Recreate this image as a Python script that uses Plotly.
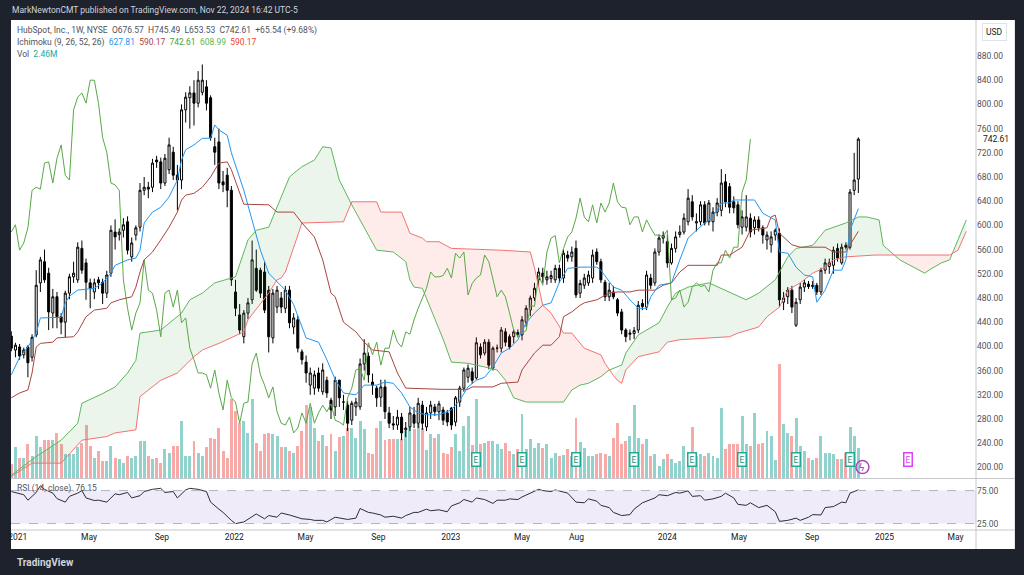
import pandas as pd
import plotly.graph_objects as go


# HubSpot weekly bars, first visible bar = week of 2020-12-21
first_week = "2020-12-21"

opens = [417, 394, 399, 386, 399, 382, 419, 505, 540, 521,
         455, 482, 449, 440, 488, 515, 510, 562, 538, 505,
         490, 510, 506, 488, 521, 589, 585, 592, 606, 548,
         584, 597, 658, 663, 663, 708, 705, 670, 692, 721,
         683, 675, 791, 811, 819, 802, 820, 829, 811, 730,
         738, 672, 683, 658, 490, 452, 416, 455, 477, 529,
         526, 523, 493, 414, 465, 480, 463, 493, 432, 444,
         391, 374, 336, 331, 356, 325, 344, 311, 300, 344,
         308, 303, 278, 300, 300, 371, 384, 341, 331, 316,
         333, 290, 272, 270, 283, 262, 267, 287, 273, 303,
         267, 290, 300, 292, 295, 290, 298, 275, 308, 331,
         349, 358, 348, 399, 389, 407, 364, 397, 397, 424,
         416, 416, 423, 419, 440, 460, 480, 510, 521, 510,
         512, 510, 529, 513, 551, 548, 562, 488, 501, 505,
         513, 556, 540, 506, 482, 490, 477, 457, 427, 420,
         421, 427, 471, 465, 513, 505, 556, 579, 573, 538,
         562, 585, 589, 606, 639, 604, 606, 634, 606, 606,
         622, 625, 672, 664, 639, 634, 597, 597, 612, 596,
         609, 596, 576, 568, 584, 587, 473, 482, 493, 435,
         477, 498, 503, 499, 501, 490, 526, 532, 534, 562,
         538, 567, 564, 658, 676.57]

highs = [425, 406, 404, 398, 402, 420, 526, 548, 560, 530,
         495, 490, 455, 492, 520, 540, 572, 575, 545, 512,
         512, 515, 512, 525, 600, 610, 595, 612, 615, 580,
         600, 670, 680, 672, 710, 715, 712, 718, 745, 730,
         700, 800, 820, 830, 840, 855, 866, 840, 815, 745,
         760, 690, 695, 665, 510, 470, 460, 480, 575, 560,
         530, 540, 500, 495, 500, 490, 500, 500, 455, 450,
         395, 385, 365, 360, 365, 372, 350, 315, 350, 345,
         320, 310, 310, 315, 380, 412, 390, 355, 335, 345,
         345, 300, 285, 295, 290, 275, 300, 300, 315, 310,
         300, 310, 305, 310, 300, 295, 300, 318, 335, 365,
         370, 365, 415, 405, 412, 412, 400, 403, 432, 430,
         420, 428, 428, 450, 468, 484, 505, 530, 530, 525,
         525, 535, 535, 560, 558, 565, 575, 510, 520, 525,
         560, 562, 545, 510, 505, 500, 480, 462, 430, 428,
         432, 475, 478, 525, 520, 562, 585, 590, 585, 570,
         590, 600, 620, 660, 650, 620, 640, 640, 642, 630,
         645, 693, 685, 670, 648, 640, 625, 650, 620, 615,
         615, 600, 590, 590, 595, 595, 490, 498, 500, 480,
         505, 510, 508, 508, 505, 530, 545, 545, 565, 570,
         570, 572, 660, 720, 745.49]

lows = [392, 382, 378, 380, 349, 375, 415, 490, 505, 427,
        430, 430, 420, 415, 478, 505, 505, 520, 477, 463,
        478, 495, 470, 480, 515, 560, 575, 580, 552, 540,
        575, 590, 650, 645, 655, 695, 660, 665, 685, 675,
        625, 660, 770, 760, 765, 795, 815, 790, 740, 700,
        660, 655, 630, 500, 450, 420, 405, 445, 470, 490,
        480, 455, 390, 405, 455, 455, 455, 430, 420, 390,
        370, 340, 320, 320, 325, 320, 315, 280, 285, 300,
        295, 260, 270, 285, 295, 360, 340, 320, 300, 300,
        280, 265, 262, 262, 245, 250, 260, 265, 265, 262,
        260, 280, 285, 278, 270, 268, 262, 268, 300, 325,
        340, 338, 345, 380, 385, 362, 360, 390, 390, 400,
        395, 405, 415, 410, 432, 450, 475, 500, 505, 502,
        505, 505, 505, 505, 540, 540, 480, 480, 495, 500,
        505, 535, 505, 475, 475, 478, 450, 420, 407, 410,
        412, 422, 460, 460, 495, 500, 550, 570, 530, 535,
        555, 580, 585, 600, 608, 590, 600, 600, 600, 590,
        615, 615, 630, 620, 620, 595, 585, 590, 580, 585,
        590, 570, 560, 555, 575, 465, 460, 470, 455, 432,
        470, 490, 495, 495, 485, 485, 520, 520, 520, 540,
        535, 560, 560, 650, 653.53]

closes = [397, 402, 384, 394, 373, 415, 501, 543, 510, 457,
          482, 449, 440, 488, 515, 521, 564, 526, 506, 496,
          505, 505, 488, 518, 592, 581, 589, 601, 559, 571,
          596, 658, 663, 660, 703, 705, 670, 711, 733, 683,
          675, 791, 812, 819, 802, 840, 840, 802, 745, 721,
          670, 667, 658, 510, 463, 427, 455, 472, 543, 493,
          488, 460, 416, 488, 493, 465, 493, 439, 447, 397,
          378, 356, 356, 353, 331, 361, 323, 295, 344, 315,
          308, 273, 306, 308, 371, 389, 353, 336, 315, 333,
          292, 273, 270, 283, 257, 265, 290, 273, 306, 273,
          290, 303, 292, 305, 278, 275, 270, 315, 331, 361,
          364, 344, 406, 386, 407, 369, 397, 397, 427, 407,
          399, 424, 420, 444, 463, 480, 496, 523, 515, 515,
          517, 529, 513, 554, 546, 556, 485, 504, 513, 518,
          551, 540, 510, 482, 493, 482, 455, 427, 416, 422,
          426, 468, 466, 518, 501, 556, 579, 583, 538, 562,
          581, 589, 612, 645, 614, 606, 634, 604, 637, 622,
          637, 670, 639, 630, 629, 601, 614, 614, 589, 609,
          596, 584, 584, 581, 592, 477, 480, 493, 465, 473,
          498, 505, 499, 501, 490, 526, 538, 538, 559, 546,
          564, 564, 655, 675, 742.61]

# weekly volume, millions of shares
volumes = [1.15, 2.5, 1.6, 1.6, 2.8, 1.8, 3.4, 2.5, 3.1, 3.1,
           3.1, 3.7, 2.8, 2.0, 1.95, 2.0, 2.5, 2.9, 4.3, 2.6,
           1.6, 2.2, 1.4, 1.4, 2.6, 1.6, 1.55, 1.2, 1.8, 1.6,
           1.8, 3.0, 3.0, 1.8, 1.53, 1.66, 1.26, 2.35, 2.07, 2.62,
           2.62, 4.67, 1.8, 1.8, 3.03, 2.07, 1.8, 2.5, 3.3, 3.2,
           4.1, 2.2, 1.66, 6.45, 5.5, 4.5, 4.67, 3.7, 6.45, 2.9,
           2.2, 3.6, 3.7, 3.6, 3.44, 2.5, 2.5, 2.2, 2.07, 2.62,
           3.85, 6.0, 5.8, 4.1, 3.0, 3.5, 2.6, 3.6, 2.2, 3.36,
           3.44, 4.1, 4.1, 3.3, 4.7, 4.0, 2.07, 1.94, 4.1, 4.7,
           3.1, 3.2, 3.2, 3.2, 3.2, 3.85, 4.2, 4.0, 4.4, 4.1,
           2.27, 3.6, 3.3, 3.58, 2.07, 1.94, 2.54, 3.58, 2.2, 4.26,
           5.08, 2.68, 6.5, 2.76, 2.9, 3.03, 3.03, 2.76, 2.35, 2.9,
           2.2, 1.94, 2.35, 5.2, 2.35, 3.17, 2.49, 2.9, 2.49, 2.76,
           1.6, 2.07, 1.8, 1.88, 2.35, 1.8, 4.9, 2.98, 2.49, 1.8,
           1.8, 1.94, 2.07, 1.94, 1.8, 3.3, 4.53, 2.76, 3.03, 3.44,
           5.98, 3.3, 2.76, 3.17, 1.8, 1.94, 0.98, 1.53, 2.0, 1.53,
           1.26, 1.4, 2.62, 1.94, 4.18, 1.8, 1.94, 1.8, 2.07, 1.8,
           1.67, 5.77, 2.35, 2.76, 2.76, 2.81, 5.08, 2.81, 2.62, 5.35,
           2.81, 2.9, 3.85, 3.44, 1.45, 9.32, 4.45, 3.71, 3.44, 4.94,
           2.62, 2.2, 1.67, 1.45, 1.67, 3.44, 2.07, 2.07, 1.94, 1.53,
           1.53, 2.07, 4.18, 3.44, 2.46]

# Ichimoku lines: (week index, price)
tenkan_wk = [0, 2, 4, 6, 7, 10, 12, 13, 14, 16, 20, 22, 24, 25, 28, 30, 31, 32, 34, 36,
             38, 40, 41, 42, 44, 46, 48, 49, 50, 52, 53, 56, 58, 60, 62, 66, 68, 71, 74, 76,
             78, 80, 83, 85, 88, 90, 92, 94, 96, 98, 100, 103, 106, 108, 110, 112, 114, 116, 118, 120,
             122, 124, 126, 128, 130, 132, 134, 137, 141, 142, 145, 147, 149, 151, 153, 154, 156, 159, 161, 163,
             165, 167, 169, 171, 173, 174, 179, 181, 184, 185, 187, 189, 191, 193, 194, 196, 198, 200, 201, 202,
             204]
tenkan = [353, 382, 399, 422, 447, 448, 448, 472, 483, 493, 496, 505, 521, 534, 543, 546, 559, 604, 622, 630,
          647, 675, 708, 725, 733, 744, 744, 766, 758, 749, 720, 658, 609, 559, 521, 493, 469, 414, 407, 378,
          345, 323, 320, 336, 336, 341, 339, 323, 300, 290, 287, 287, 295, 311, 333, 344, 349, 366, 389, 397,
          411, 439, 455, 468, 472, 506, 529, 531, 531, 526, 498, 493, 477, 463, 463, 482, 501, 505, 543, 579,
          592, 604, 614, 637, 637, 642, 642, 620, 609, 556, 554, 531, 518, 515, 473, 493, 526, 526, 543, 592,
          627.81]

kijun_wk = [0, 2, 4, 5, 6, 7, 10, 11, 15, 16, 18, 20, 23, 24, 26, 29, 30, 31, 32, 34,
            36, 38, 40, 41, 42, 44, 46, 48, 50, 52, 53, 55, 56, 62, 64, 68, 70, 73, 75, 77,
            78, 80, 83, 85, 87, 91, 93, 95, 104, 110, 111, 116, 118, 122, 123, 126, 128, 130, 132, 133,
            135, 137, 138, 141, 144, 146, 149, 151, 155, 157, 159, 161, 163, 170, 171, 173, 176, 178, 182, 183,
            184, 185, 188, 190, 196, 198, 201, 202, 204]
kijun = [315, 323, 328, 356, 399, 405, 407, 414, 416, 424, 449, 460, 463, 472, 477, 482, 498, 523, 543, 556,
         576, 597, 622, 642, 650, 653, 663, 680, 703, 705, 692, 653, 635, 634, 622, 622, 604, 581, 543, 488,
         482, 440, 424, 407, 394, 391, 356, 331, 329, 329, 333, 333, 339, 341, 361, 389, 402, 402, 416, 449,
         457, 468, 472, 477, 488, 490, 490, 493, 493, 501, 505, 523, 534, 534, 551, 551, 564, 592, 596, 614,
         617, 587, 568, 564, 564, 556, 556, 568, 590.17]

span_a_wk = [0, 6, 12, 16, 17, 22, 25, 28, 30, 31, 36, 41, 43, 46, 49, 54, 57, 59, 62, 64,
             67, 68, 70, 73, 75, 77, 79, 82, 85, 88, 92, 95, 96, 97, 99, 101, 103, 104, 106, 110,
             114, 117, 119, 121, 124, 133, 135, 137, 139, 142, 144, 147, 148, 151, 156, 158, 160, 163, 168, 173,
             177, 180, 184, 187, 189, 193, 196, 201, 204, 206, 209, 210, 212, 214, 220, 221, 224, 226, 228, 230]
span_a = [187, 218, 245, 273, 306, 322, 333, 356, 377, 422, 427, 455, 477, 488, 505, 515, 576, 592, 597, 630,
          680, 686, 697, 708, 730, 728, 675, 634, 596, 559, 556, 540, 510, 498, 496, 463, 427, 412, 374, 372,
          366, 361, 344, 315, 308, 308, 328, 336, 339, 350, 361, 369, 389, 419, 439, 465, 488, 498, 505, 490,
          477, 488, 510, 548, 562, 567, 592, 604, 614, 614, 609, 567, 555, 543, 521, 526, 538, 543, 576, 608.99]

span_b_wk = [0, 5, 12, 17, 23, 25, 30, 31, 36, 40, 44, 46, 50, 56, 57, 62, 64, 65, 66, 70,
             80, 82, 88, 89, 94, 96, 99, 100, 103, 106, 118, 125, 126, 128, 130, 133, 135, 138, 142, 143,
             145, 146, 147, 148, 151, 156, 158, 161, 173, 175, 180, 182, 185, 187, 190, 193, 196, 198, 201, 208,
             212, 226, 228, 229, 230]
span_b = [185, 207, 207, 245, 251, 257, 262, 317, 344, 356, 383, 394, 405, 424, 444, 488, 510, 513, 523, 604,
          606, 639, 639, 622, 622, 587, 579, 573, 573, 562, 559, 556, 530, 468, 455, 422, 422, 397, 386, 372,
          352, 344, 339, 361, 383, 391, 407, 411, 416, 422, 432, 449, 465, 493, 505, 521, 531, 543, 548, 551,
          551, 551, 559, 575, 590.17]

# cloud colour changes where span A and span B cross (week index)
cloud_parts = [(0, 82, "green"), (82, 145, "red"), (145, 212, "green"), (212, 228, "red"), (228, 230, "green")]

# RSI (14, close)
rsi_wk = [0, 3, 4, 6, 7, 8, 10, 11, 13, 14, 16, 17, 18, 20, 21, 23, 25, 26, 28, 29,
          31, 32, 34, 36, 37, 39, 40, 42, 43, 45, 47, 48, 50, 51, 53, 54, 56, 58, 59, 61,
          62, 64, 65, 67, 69, 70, 72, 73, 75, 76, 78, 80, 81, 83, 84, 86, 87, 89, 90, 92,
          94, 95, 97, 98, 100, 101, 103, 105, 106, 108, 109, 111, 112, 114, 116, 117, 119, 120, 122, 123,
          125, 127, 128, 130, 131, 133, 134, 136, 138, 139, 141, 142, 144, 145, 147, 149, 150, 152, 153, 155,
          156, 158, 160, 161, 163, 164, 166, 167, 169, 171, 172, 174, 175, 177, 178, 180, 182, 183, 184, 185,
          187, 189, 190, 192, 193, 195, 196, 198, 200, 201, 202, 203, 204]
rsi = [73.5, 68.7, 60.4, 72.1, 82.3, 76.9, 71.1, 62.8, 57.5, 66.2, 71.1, 75.0, 63.8, 59.9, 60.4, 57.5, 70.1, 68.7, 72.1, 63.8,
       67.2, 73.5, 76.9, 78.4, 72.1, 73.5, 63.8, 76.0, 78.4, 76.9, 73.5, 57.5, 46.8, 41.9, 29.8, 24.9, 27.4, 34.6, 39.5, 32.2,
       37.1, 34.6, 41.0, 38.0, 34.6, 32.2, 31.2, 29.8, 29.8, 27.4, 34.6, 32.2, 31.2, 33.2, 47.8, 41.9, 41.0, 38.0, 34.6, 36.1,
       33.2, 37.1, 41.9, 41.9, 46.8, 44.4, 45.8, 42.9, 51.7, 56.5, 61.4, 57.5, 63.8, 61.4, 55.5, 60.4, 60.4, 62.4, 61.4, 65.3,
       71.1, 76.9, 75.0, 73.5, 76.0, 73.5, 71.1, 57.5, 56.5, 62.4, 59.0, 52.6, 49.2, 41.9, 37.1, 38.5, 46.8, 56.5, 59.0, 63.8,
       68.7, 67.2, 72.1, 71.1, 74.5, 66.2, 67.2, 60.4, 62.4, 66.2, 71.1, 63.8, 54.1, 52.6, 56.5, 49.2, 52.6, 47.8, 42.9, 28.3,
       29.8, 33.2, 29.8, 34.6, 38.5, 38.0, 49.2, 50.7, 57.5, 56.5, 71.1, 73.5, 76.15]

earnings_dates = ["2023-02-13", "2023-05-01", "2023-07-31", "2023-11-06",
                  "2024-02-12", "2024-05-06", "2024-08-05", "2024-11-04"]
next_earnings = "2025-02-10"

tick_dates = ["2021-01-01", "2021-05-01", "2021-09-01", "2022-01-01", "2022-05-01", "2022-09-01",
              "2023-01-01", "2023-05-01", "2023-08-01", "2024-01-01", "2024-05-01", "2024-09-01",
              "2025-01-01", "2025-05-01"]
tick_text = ["2021", "May", "Sep", "2022", "May", "Sep", "2023", "May", "Aug",
             "2024", "May", "Sep", "2025", "May"]

price_ticks = list(range(200, 881, 40))


weeks = pd.date_range(first_week, periods=240, freq="7D")
bar_dates = weeks[:len(closes)]


def at_weeks(idx):
    return [weeks[i] for i in idx]


FONT = "Roboto, Arial, sans-serif"
TEXT = "#131722"
SMALL = 8.5

fig = go.Figure()

# Volume (base axis so it sits under everything)
vol_colors = ["rgba(38,166,154,0.5)" if c >= o else "rgba(239,83,80,0.5)"
              for o, c in zip(opens, closes)]
fig.add_trace(go.Bar(
    x=bar_dates, y=volumes, marker_color=vol_colors, marker_line_width=0,
    width=5 * 86400000, xaxis="x", yaxis="y", hoverinfo="skip"
))

# Kumo cloud
fills = {"green": "rgba(67,160,71,0.1)", "red": "rgba(244,67,54,0.1)"}
for s, e, col in cloud_parts:
    a_pts = [(w, v) for w, v in zip(span_a_wk, span_a) if s <= w <= e]
    b_pts = [(w, v) for w, v in zip(span_b_wk, span_b) if s <= w <= e][::-1]
    pts = a_pts + b_pts
    fig.add_trace(go.Scatter(
        x=[weeks[w] for w, _ in pts], y=[v for _, v in pts],
        fill="toself", fillcolor=fills[col], mode="lines", line_width=0,
        xaxis="x", yaxis="y3", hoverinfo="skip"
    ))

fig.add_trace(go.Scatter(x=at_weeks(span_a_wk), y=span_a, mode="lines",
                         line=dict(color="#5cb85c", width=1), xaxis="x", yaxis="y3"))
fig.add_trace(go.Scatter(x=at_weeks(span_b_wk), y=span_b, mode="lines",
                         line=dict(color="#f47272", width=1), xaxis="x", yaxis="y3"))

# Lagging span: closes shifted back 26 weeks
fig.add_trace(go.Scatter(x=bar_dates[:len(closes) - 26], y=closes[26:], mode="lines",
                         line=dict(color="#5aa845", width=1), xaxis="x", yaxis="y3"))

fig.add_trace(go.Scatter(x=at_weeks(kijun_wk), y=kijun, mode="lines",
                         line=dict(color="#a8453f", width=1), xaxis="x", yaxis="y3"))
fig.add_trace(go.Scatter(x=at_weeks(tenkan_wk), y=tenkan, mode="lines",
                         line=dict(color="#2196f3", width=1), xaxis="x", yaxis="y3"))

fig.add_trace(go.Candlestick(
    x=bar_dates, open=opens, high=highs, low=lows, close=closes,
    increasing=dict(line=dict(color="#000000", width=1), fillcolor="#ffffff"),
    decreasing=dict(line=dict(color="#000000", width=1), fillcolor="#000000"),
    whiskerwidth=0, xaxis="x", yaxis="y3"
))

# RSI pane
fig.add_trace(go.Scatter(x=at_weeks(rsi_wk), y=rsi, mode="lines",
                         line=dict(color="#2a2e39", width=1), xaxis="x2", yaxis="y2"))

# event marker after the last bar
fig.add_trace(go.Scatter(
    x=[weeks[205]], y=[200.5], mode="markers",
    marker=dict(symbol="circle-open", size=13, color="#ab47bc", line_width=1.5),
    xaxis="x", yaxis="y3", hoverinfo="skip"
))

x_range = ["2020-12-20 12:00", "2025-06-04 09:00"]

shapes = [
    # white chart panel (includes price and date scales)
    dict(type="rect", xref="paper", yref="paper", x0=0, x1=1.0403, y0=-0.0373, y1=1,
         fillcolor="white", line_width=0, layer="below"),
    dict(type="line", xref="paper", yref="paper", x0=0, x1=1.0403, y0=0.101, y1=0.101,
         line=dict(color="#c5c7cc", width=1)),
    dict(type="line", xref="paper", yref="paper", x0=0, x1=1.0403, y0=0, y1=0,
         line=dict(color="#c5c7cc", width=1)),
    dict(type="line", xref="paper", yref="paper", x0=1, x1=1, y0=-0.0373, y1=1,
         line=dict(color="#c5c7cc", width=1)),
    # RSI band
    dict(type="rect", xref="x2", yref="y2", x0=x_range[0], x1=x_range[1], y0=25, y1=75,
         fillcolor="rgba(126,87,194,0.12)", line_width=0, layer="below"),
    dict(type="line", xref="x2", yref="y2", x0=x_range[0], x1=x_range[1], y0=75, y1=75,
         line=dict(color="#b2b5be", width=1, dash="dash")),
    dict(type="line", xref="x2", yref="y2", x0=x_range[0], x1=x_range[1], y0=25, y1=25,
         line=dict(color="#b2b5be", width=1, dash="dash")),
]

annotations = [
    dict(text="MarkNewtonCMT published on TradingView.com, Nov 22, 2024 16:42 UTC-5",
         xref="paper", yref="paper", x=-0.001, y=1.0196, xanchor="left", yanchor="middle",
         showarrow=False, font=dict(family=FONT, size=SMALL, color="#d1d4dc")),
    dict(text="HubSpot, Inc., 1W, NYSE  O676.57  H745.49  L653.53  C742.61  +65.54 (+9.68%)",
         xref="paper", yref="paper", x=0.0045, y=0.980, xanchor="left", yanchor="middle",
         showarrow=False, font=dict(family=FONT, size=SMALL, color="#50535e")),
    dict(text="Ichimoku (9, 26, 52, 26)  <span style='color:#2196f3'>627.81</span>  "
              "<span style='color:#a8453f'>590.17</span>  <span style='color:#43a047'>742.61</span>  "
              "<span style='color:#5cb85c'>608.99</span>  <span style='color:#f44336'>590.17</span>",
         xref="paper", yref="paper", x=0.0045, y=0.955, xanchor="left", yanchor="middle",
         showarrow=False, font=dict(family=FONT, size=SMALL, color="#50535e")),
    dict(text="Vol  <span style='color:#26a69a'>2.46M</span>",
         xref="paper", yref="paper", x=0.0045, y=0.933, xanchor="left", yanchor="middle",
         showarrow=False, font=dict(family=FONT, size=SMALL, color="#50535e")),
    dict(text="RSI (14, close)  76.15",
         xref="paper", yref="paper", x=0.0045, y=0.082, xanchor="left", yanchor="middle",
         showarrow=False, font=dict(family=FONT, size=SMALL, color="#50535e")),
    dict(text="USD", xref="paper", yref="paper", x=1.0196, y=0.9765, xanchor="center", yanchor="middle",
         showarrow=False, font=dict(family=FONT, size=SMALL, color=TEXT),
         bordercolor="#e0e3eb", borderwidth=1, borderpad=3, bgcolor="white"),
    dict(text="742.61", xref="paper", yref="y3", x=1.0, y=742.61, xanchor="left", yanchor="middle",
         xshift=5, showarrow=False, font=dict(family=FONT, size=SMALL, color=TEXT)),
    dict(text="<b>TradingView</b>", xref="paper", yref="paper", x=0.004, y=-0.063,
         xanchor="left", yanchor="middle", showarrow=False,
         font=dict(family=FONT, size=10, color="#d1d4dc")),
    dict(text="ϟ", xref="x", yref="y3", x=weeks[205], y=200.5, showarrow=False,
         font=dict(family=FONT, size=10, color="#ab47bc")),
]

for d in earnings_dates:
    annotations.append(dict(
        text="E", xref="x", yref="paper", x=d, y=0.1235, showarrow=False,
        font=dict(family=FONT, size=SMALL, color="#089981"),
        bordercolor="#22ab94", borderwidth=1.5, borderpad=1, bgcolor="white"
    ))
annotations.append(dict(
    text="E", xref="x", yref="paper", x=next_earnings, y=0.1235, showarrow=False,
    font=dict(family=FONT, size=SMALL, color="#e040fb"),
    bordercolor="#e040fb", borderwidth=1.5, borderpad=1, bgcolor="white"
))

fig.update_layout(
    width=1024, height=575,
    margin=dict(l=8, r=48, t=20, b=45),
    paper_bgcolor="#1e222d", plot_bgcolor="white",
    showlegend=False,
    font=dict(family=FONT, size=SMALL, color=TEXT),
    bargap=0,
    xaxis=dict(domain=[0, 1], anchor="y", range=x_range, showticklabels=False, showgrid=False,
               zeroline=False, rangeslider=dict(visible=False), matches="x2"),
    xaxis2=dict(domain=[0, 1], anchor="y2", range=x_range, tickvals=tick_dates, ticktext=tick_text,
                showgrid=False, zeroline=False, ticks="", tickfont=dict(size=SMALL, color=TEXT)),
    yaxis=dict(domain=[0.102, 1], range=[0, 37.5], visible=False),
    yaxis3=dict(overlaying="y", side="right", anchor="x", range=[182.5, 939.5],
                tickvals=price_ticks, ticktext=[f"{v:.2f}" for v in price_ticks],
                showgrid=False, zeroline=False, ticks="", tickfont=dict(size=SMALL, color="#50535e")),
    yaxis2=dict(domain=[0, 0.098], anchor="x2", side="right", range=[15.2, 91],
                tickvals=[25, 75], ticktext=["25.00", "75.00"], showgrid=False, zeroline=False,
                ticks="", tickfont=dict(size=SMALL, color="#50535e")),
    shapes=shapes,
    annotations=annotations,
)

# page body has a default 8px margin; remove it so the figure sits at (0, 0)
fig.write_html("out.html", config={"displayModeBar": False},
               post_script="document.body.style.margin='0';")
